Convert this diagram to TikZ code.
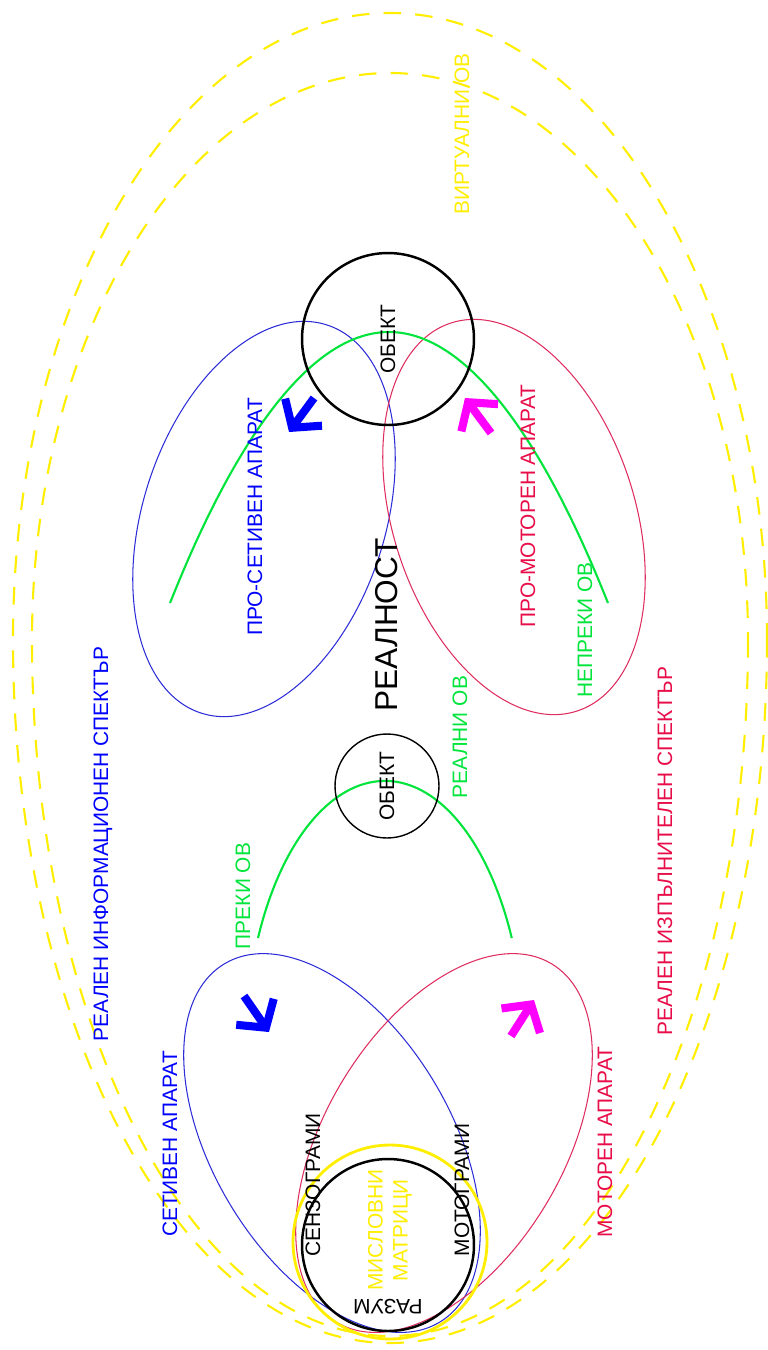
\documentclass[tikz,border=0pt]{standalone}
\usepackage{fontspec}
\setmainfont{Liberation Sans}
\usetikzlibrary{arrows.meta}

\definecolor{vyellow}{RGB}{255,238,0}
\definecolor{infoblue}{RGB}{0,0,255}
\definecolor{lineblue}{RGB}{45,45,215}
\definecolor{motorred}{RGB}{232,12,72}
\definecolor{linered}{RGB}{222,45,95}
\definecolor{ovgreen}{RGB}{0,228,60}
\definecolor{flowpink}{RGB}{255,0,255}

\begin{document}
\begin{tikzpicture}[x=0.02cm,y=-0.02cm,
  lbl/.style={rotate=90,inner sep=0pt,font=\fontsize{11.9}{14.2}\selectfont},
  obj/.style={circle,draw=black,rotate=90,inner sep=0pt,font=\fontsize{11.9}{14.2}\selectfont},
  spectrum/.style={draw=vyellow,line width=1.2pt,dash pattern=on 10pt off 8pt},
  sense/.style={draw=lineblue,line width=0.6pt},
  motor/.style={draw=linered,line width=0.6pt},
  ov/.style={draw=ovgreen,line width=1.2pt},
  flow/.style={line width=4.6pt,-{Straight Barb[length=11pt,width=26pt]}}]

 \useasboundingbox (0,0) rectangle (768,1350);

 % virtual OV
 \draw[spectrum] (767,640) arc [start angle=0, end angle=180, x radius=377, y radius=703]
   arc [start angle=180, end angle=360, x radius=377, y radius=627] -- cycle;
 \draw[spectrum] (748,640) arc [start angle=0, end angle=180, x radius=358, y radius=696]
   arc [start angle=180, end angle=360, x radius=358, y radius=567] -- cycle;

 % apparatus
 \draw[sense, rotate around={-59:(332,1143)}] (332,1143) ellipse [x radius=209, y radius=119];
 \draw[motor, rotate around={59:(444,1143)}] (444,1143) ellipse [x radius=209, y radius=119];
 \draw[sense, rotate around={72:(264,519)}] (264,519) ellipse [x radius=204, y radius=121];
 \draw[motor, rotate around={-72:(514,517)}] (514,517) ellipse [x radius=204, y radius=121];

 % OV arcs
 \draw[ov] (258,938) arc [start angle=205, end angle=335, x radius=140, y radius=272];
 \draw[ov] (170,603) parabola bend (389,332) (608,603);

 % circles
 \node[obj, line width=1.4pt, minimum size=3.44cm] (objbig) at (388,339) {ОБЕКТ};
 \node[obj, line width=0.8pt, minimum size=2.08cm] (objsmall) at (387,786) {ОБЕКТ};
 \node[circle, draw=vyellow, line width=1.6pt, minimum size=3.88cm] (halo) at (390,1242) {};
 \node[circle, draw=black, line width=1.4pt, minimum size=3.44cm] (razum) at (388,1245) {};

 % flows
 \coordinate (s1) at (244,996);  \coordinate (s2) at (269,1032);
 \coordinate (m1) at (511,1036); \coordinate (m2) at (534,1000);
 \coordinate (ps1) at (314,398); \coordinate (ps2) at (289,432);
 \coordinate (pm1) at (491,433); \coordinate (pm2) at (465,398);
 \draw[flow, infoblue] (s1) -- (s2);
 \draw[flow, flowpink] (m1) -- (m2);
 \draw[flow, infoblue] (ps1) -- (ps2);
 \draw[flow, flowpink] (pm1) -- (pm2);

 % labels
 \node[lbl, vyellow] (virt) at (462,134) {ВИРТУАЛНИ ОВ};
 \node[lbl, font=\fontsize{18}{20}\selectfont] (real) at (387,625) {РЕАЛНОСТ};
 \node[lbl, ovgreen] (realov) at (460,737) {РЕАЛНИ ОВ};
 \node[lbl, ovgreen] (direct) at (243,896) {ПРЕКИ ОВ};
 \node[lbl, ovgreen] (indirect) at (585,630) {НЕПРЕКИ ОВ};
 \node[lbl, infoblue] (prosense) at (255,517) {ПРО-СЕТИВЕН АПАРАТ};
 \node[lbl, motorred] (promotor) at (528,506) {ПРО-МОТОРЕН АПАРАТ};
 \node[lbl, infoblue] (infospec) at (103,844) {РЕАЛЕН ИНФОРМАЦИОНЕН СПЕКТЪР};
 \node[lbl, motorred] (execspec) at (665,851) {РЕАЛЕН ИЗПЪЛНИТЕЛЕН СПЕКТЪР};
 \node[lbl, infoblue] (sense) at (170,1144) {СЕТИВЕН АПАРАТ};
 \node[lbl, motorred] (motor) at (605,1142) {МОТОРЕН АПАРАТ};
 \node[lbl] (sensograms) at (313,1185) {СЕНЗОГРАМИ};
 \node[lbl] (motograms) at (462,1190) {МОТОГРАМИ};
 \node[lbl, vyellow, align=center] (matrix) at (390,1230) {МИСЛОВНИ\\МАТРИЦИ};
 \node[lbl, rotate=90] (mind) at (388,1307) {РАЗУМ};

\end{tikzpicture}
\end{document}
